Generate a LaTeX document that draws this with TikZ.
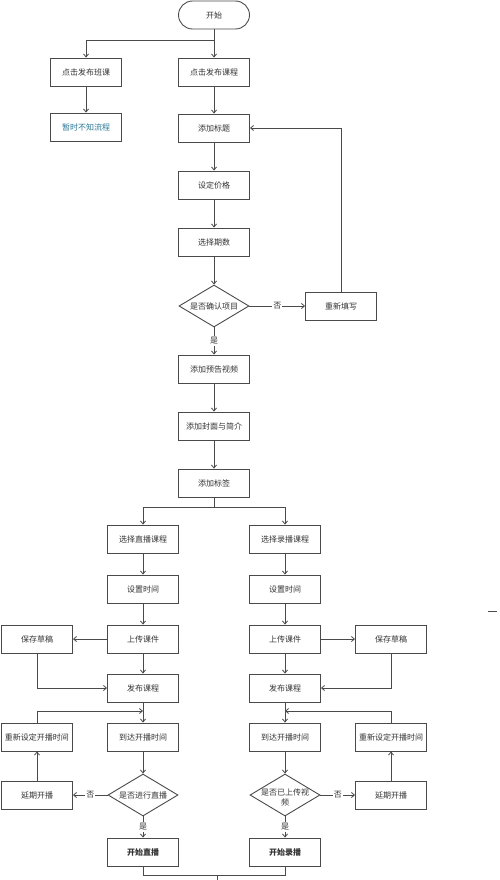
\documentclass[tikz,border=0pt]{standalone}
\usepackage{fontspec}
\setmainfont{Noto Sans CJK SC}
\usetikzlibrary{arrows.meta,shapes.geometric}
\definecolor{lnc}{HTML}{4A4A4A}
\definecolor{txc}{HTML}{333333}
\definecolor{tealtxt}{HTML}{2A7896}
\begin{document}
\begin{tikzpicture}[x=1pt,y=-1pt,
  box/.style={draw=lnc,line width=0.9pt,minimum width=71pt,minimum height=28pt,inner sep=0pt,font=\fontsize{8}{9}\selectfont,text=txc},
  term/.style={box,rounded corners=14pt},
  dia/.style={draw=lnc,line width=0.9pt,diamond,minimum width=70pt,minimum height=42pt,inner sep=0pt},
  txt/.style={font=\fontsize{8}{10}\selectfont,text=txc,align=center,inner sep=0pt},
  conn/.style={draw=lnc,line width=0.8pt},
  arr/.style={conn,-{Straight Barb[length=3pt,width=5pt]}},
  yn/.style={fill=white,font=\fontsize{8}{9}\selectfont,text=txc,inner sep=1pt}
]
\useasboundingbox[fill=white] (0,0) rectangle (500,880);

\node[term] (start) at (214,15) {开始};
\node[box] (b1) at (86,72) {点击发布班课};
\node[box] (b2) at (214,72) {点击发布课程};
\node[box,text=tealtxt] (b3) at (86,127) {暂时不知流程};
\node[box] (t1) at (214,128) {添加标题};
\node[box] (p1) at (214,185) {设定价格};
\node[box] (q1) at (214,242) {选择期数};
\node[dia] (d1) at (214,306) {};
\node[txt] (d1t) at (d1) {是否确认项目};
\node[box] (r1) at (341,306) {重新填写};
\node[box] (v1) at (214,369) {添加预告视频};
\node[box] (c1) at (214,426) {添加封面与简介};
\node[box] (g1) at (214,483) {添加标签};

\node[box] (L1) at (143,539) {选择直播课程};
\node[box] (R1) at (285,539) {选择录播课程};
\node[box] (L2) at (143,589) {设置时间};
\node[box] (R2) at (285,589) {设置时间};
\node[box] (L3) at (143,639) {上传课件};
\node[box] (R3) at (285,639) {上传课件};
\node[box] (LS) at (37,639) {保存草稿};
\node[box] (RS) at (391,639) {保存草稿};
\node[box] (L4) at (143,688) {发布课程};
\node[box] (R4) at (285,688) {发布课程};
\node[box] (L5) at (143,737) {到达开播时间};
\node[box] (R5) at (285,737) {到达开播时间};
\node[box] (LR) at (37,737) {重新设定开播时间};
\node[box] (RR) at (391,737) {重新设定开播时间};
\node[dia] (Ld) at (143,795) {};
\node[txt] (Ldt) at (Ld) {是否进行直播};
\node[dia] (Rd) at (285,795) {};
\node[txt] (Rdt) at (285,797) {是否已上传视\\频};
\node[box] (LD) at (37,795) {延期开播};
\node[box] (RD) at (391,795) {延期开播};
\node[box] (L6) at (143,852) {\textbf{开始直播}};
\node[box] (R6) at (285,852) {\textbf{开始录播}};

% top part
\coordinate (j0) at (214,40);
\draw[arr] (start) -- (b2);
\draw[arr] (j0) -| (b1);
\draw[arr] (b1) -- (b3);
\draw[arr] (b2) -- (t1);
\draw[arr] (t1) -- (p1);
\draw[arr] (p1) -- (q1);
\draw[arr] (q1) -- (d1);
\draw[arr] (d1.east) -- node[yn] {否} (r1.west);
\draw[arr] (r1.north) |- (t1.east);
\draw[arr] (d1.south) -- node[yn] {是} (v1.north);
\draw[arr] (v1) -- (c1);
\draw[arr] (c1) -- (g1);

% split
\coordinate (j1) at (214,507);
\draw[conn] (g1) -- (j1);
\draw[arr] (j1) -| (L1);
\draw[arr] (j1) -| (R1);

% left branch
\draw[arr] (L1) -- (L2);
\draw[arr] (L2) -- (L3);
\draw[arr] (L3) -- (L4);
\draw[arr] (L3.west) -- (LS.east);
\draw[arr] (LS.south) |- (L4.west);
\coordinate (jl) at (143,711);
\draw[arr] (L4) -- (L5);
\draw[arr] (LR.north) |- (jl);
\draw[arr] (L5) -- (Ld);
\draw[arr] (Ld.west) -- node[yn] {否} (LD.east);
\draw[arr] (LD) -- (LR);
\draw[arr] (Ld.south) -- node[yn] {是} (L6.north);

% right branch
\draw[arr] (R1) -- (R2);
\draw[arr] (R2) -- (R3);
\draw[arr] (R3) -- (R4);
\draw[arr] (R3.east) -- (RS.west);
\draw[arr] (RS.south) |- (R4.east);
\coordinate (jr) at (285,711);
\draw[arr] (R4) -- (R5);
\draw[arr] (RR.north) |- (jr);
\draw[arr] (R5) -- (Rd);
\draw[arr] (Rd.east) -- node[yn] {否} (RD.west);
\draw[arr] (RD) -- (RR);
\draw[arr] (Rd.south) -- node[yn] {是} (R6.north);

% bottom merge
\coordinate (jb) at (217,875);
\coordinate (jb2) at (217,884);
\draw[conn] (L6.south) |- (jb) -| (R6.south);
\draw[conn] (jb) -- (jb2);

% stray mark
\draw[lnc,line width=1pt] (488,611) -- (497,611);
\end{tikzpicture}
\end{document}
